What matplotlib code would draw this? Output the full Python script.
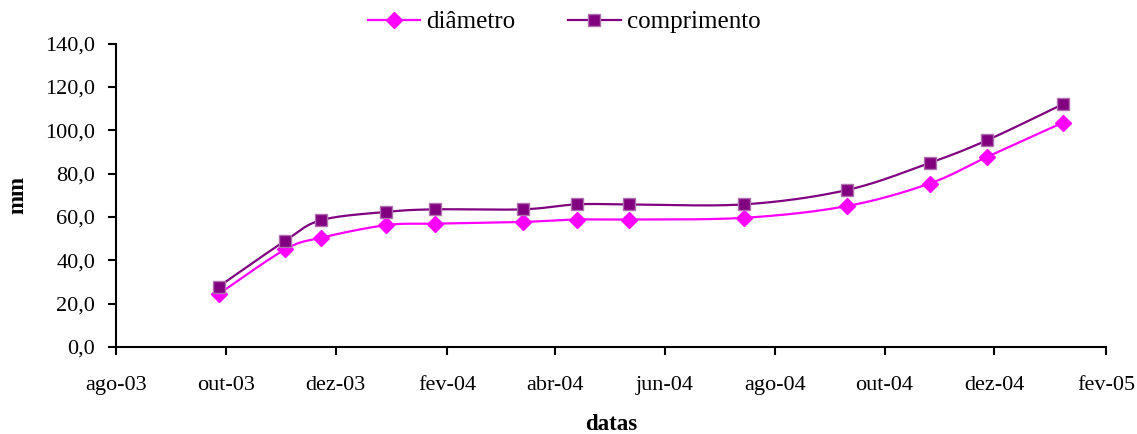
import matplotlib
matplotlib.use("Agg")
import matplotlib.pyplot as plt
import matplotlib.dates as mdates
import numpy as np
from datetime import date
from matplotlib.lines import Line2D

# ---- data ----
dates = ["2003-09-27", "2003-11-03", "2003-11-23", "2003-12-29", "2004-01-25",
         "2004-03-14", "2004-04-13", "2004-05-12", "2004-07-15", "2004-09-10",
         "2004-10-26", "2004-11-27", "2005-01-08"]
diametro = [24.4, 45.0, 50.4, 56.2, 56.9, 57.7, 58.8, 58.8, 59.6, 65.0, 75.4, 87.7, 103.5]
comprimento = [27.8, 49.0, 58.5, 62.3, 63.5, 63.5, 65.8, 65.8, 65.8, 72.4, 84.9, 95.4, 112.0]
tick_dates = ["2003-08-01", "2003-10-01", "2003-12-01", "2004-02-01", "2004-04-01",
              "2004-06-01", "2004-08-01", "2004-10-01", "2004-12-01", "2005-02-01"]
tick_labels = ["ago-03", "out-03", "dez-03", "fev-04", "abr-04", "jun-04",
               "ago-04", "out-04", "dez-04", "fev-05"]
y_ticks = [0, 20, 40, 60, 80, 100, 120, 140]

plt.rcParams['font.family'] = ['Liberation Serif', 'DejaVu Serif']

def to_num(ds):
    return np.array([mdates.date2num(date.fromisoformat(d)) for d in ds])

def smooth(x, y, n=30):
    x = np.asarray(x, float); y = np.asarray(y, float)
    P = np.column_stack([x, y])
    Pe = np.vstack([P[0], P, P[-1]])
    out = []
    t = np.linspace(0, 1, n)
    for i in range(len(P) - 1):
        p0, p1, p2, p3 = Pe[i], Pe[i + 1], Pe[i + 2], Pe[i + 3]
        b0 = p1
        b1 = p1 + (p2 - p0) / 6.0
        b2 = p2 - (p3 - p1) / 6.0
        b3 = p2
        seg = ((1 - t) ** 3)[:, None] * b0 + (3 * (1 - t) ** 2 * t)[:, None] * b1 \
            + (3 * (1 - t) * t ** 2)[:, None] * b2 + (t ** 3)[:, None] * b3
        out.append(seg if i == 0 else seg[1:])
    s = np.vstack(out)
    return s[:, 0], s[:, 1]

x = to_num(dates)
tx = to_num(tick_dates)

fig = plt.figure(figsize=(11.37, 4.34), dpi=100)
ax = fig.add_axes([116 / 1137, 87 / 434, 990 / 1137, 303.5 / 434])

c_d = '#FF00FF'
c_c = '#800080'

sx, sy = smooth(x, diametro)
ax.plot(sx, sy, color=c_d, lw=1.6, zorder=2)
ax.plot(x, diametro, linestyle='none', marker='D', markersize=8,
        markerfacecolor=c_d, markeredgecolor=c_d, zorder=3)

sx, sy = smooth(x, comprimento)
ax.plot(sx, sy, color=c_c, lw=1.6, zorder=2)
ax.plot(x, comprimento, linestyle='none', marker='s', markersize=8.5,
        markerfacecolor=c_c, markeredgecolor='#B070B0', markeredgewidth=1.0, zorder=4)

ax.set_xlim(tx[0], tx[-1])
ax.set_ylim(0, 140)
ax.set_xticks(tx)
ax.set_xticklabels(tick_labels)
ax.set_yticks(y_ticks)
ax.set_yticklabels([f"{v:.1f}".replace('.', ',') for v in y_ticks])

for s in ['top', 'right']:
    ax.spines[s].set_visible(False)
for s in ['left', 'bottom']:
    ax.spines[s].set_linewidth(1.5)
ax.tick_params(axis='x', direction='out', length=6, width=1.5, pad=15, labelsize=16)
ax.tick_params(axis='y', direction='out', length=6, width=1.5, pad=9, labelsize=16)

fig.text(18 / 1137, 1 - 195 / 434, 'mm', rotation=90, fontsize=16.5, fontweight='bold',
         ha='center', va='center')
fig.text(611 / 1137, 1 - 425 / 434, 'datas', fontsize=16.5, fontweight='bold',
         ha='center', va='center')

handles = [
    Line2D([], [], color=c_d, lw=1.6, marker='D', markersize=8,
           markerfacecolor=c_d, markeredgecolor=c_d),
    Line2D([], [], color=c_c, lw=1.6, marker='s', markersize=8.5,
           markerfacecolor=c_c, markeredgecolor='#B070B0'),
]
fig.legend(handles, ['diâmetro', 'comprimento'], loc='center',
           bbox_to_anchor=(564 / 1137, 1 - 22 / 434), ncol=2, frameon=False,
           fontsize=18, handlelength=2.1, handletextpad=0.25, columnspacing=2.1,
           borderaxespad=0, borderpad=0)

fig.savefig('out.png', dpi=100)
